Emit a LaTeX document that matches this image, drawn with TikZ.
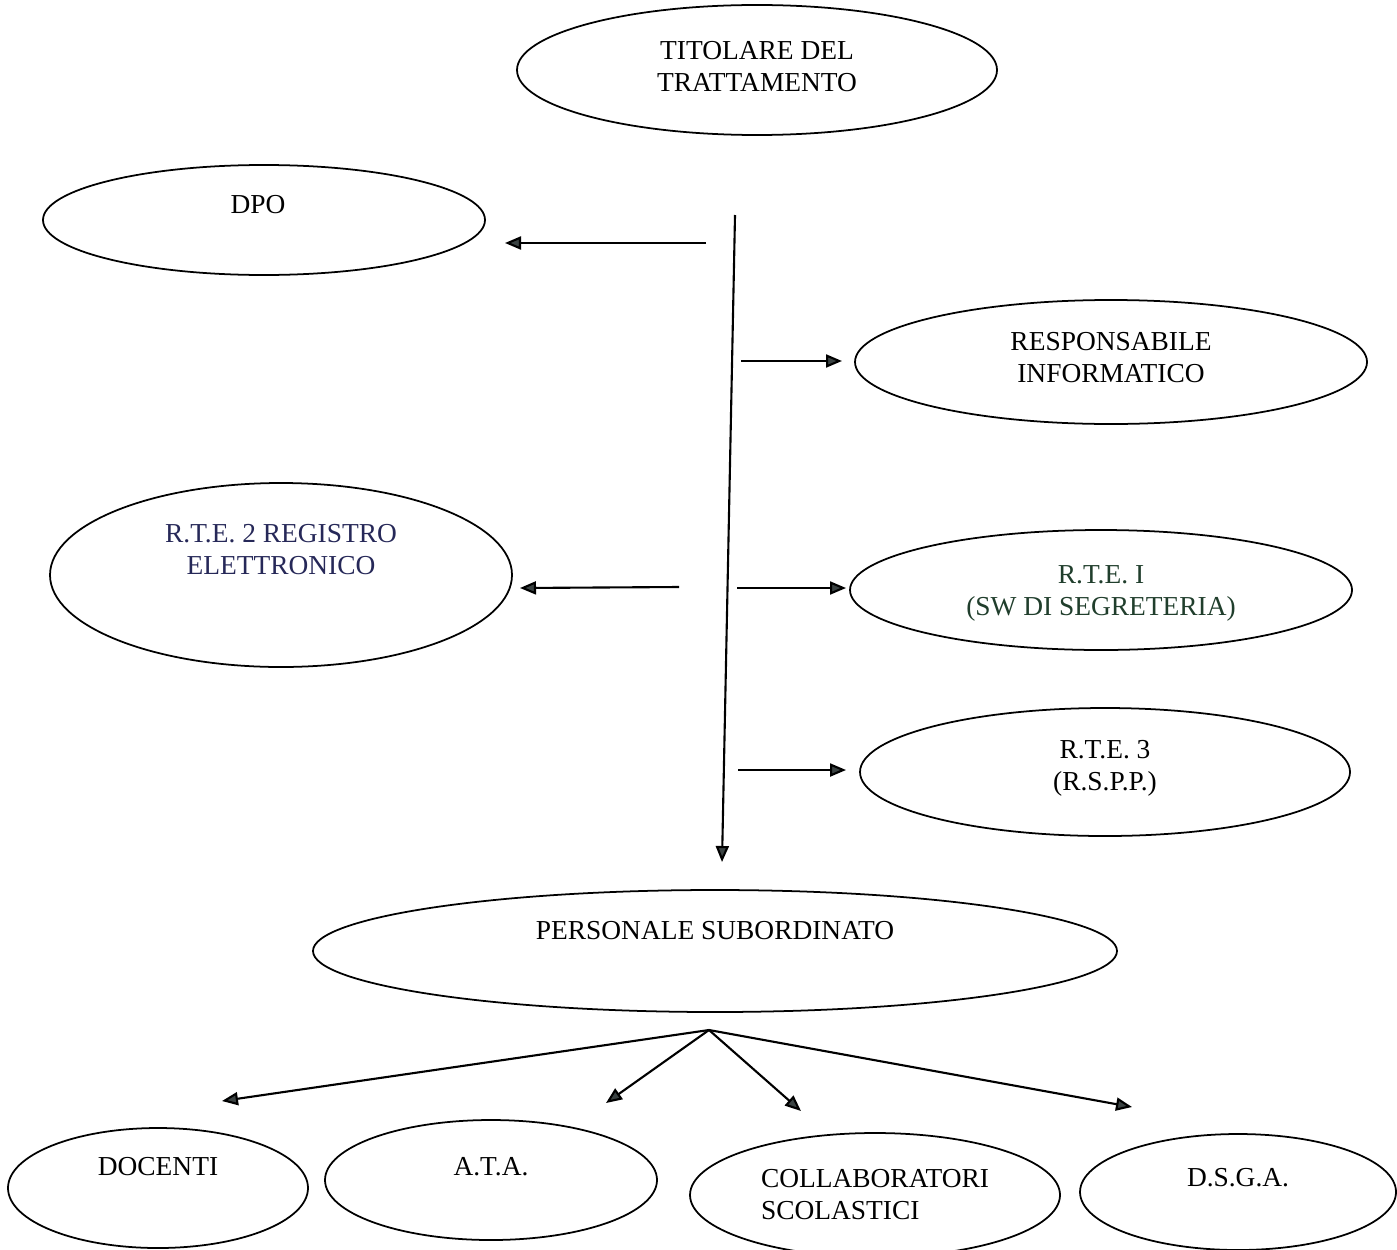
\documentclass[tikz,border=0pt]{standalone}
\usepackage{fontspec}
\setmainfont{Liberation Serif}
\usepackage{tikz}
\usetikzlibrary{shapes.geometric,arrows.meta}
\definecolor{rteblue}{RGB}{38,40,88}
\definecolor{rtegreen}{RGB}{32,62,44}
\definecolor{tipgray}{RGB}{58,66,66}

\begin{document}
\begin{tikzpicture}[x=0.1mm,y=-0.1mm,
	role/.style={draw, ellipse, line width=0.5pt, inner sep=0pt},
	txt/.style={align=center, font=\fontsize{7.8}{9.1}\selectfont},
	arr/.style={line width=0.6pt, -{Triangle[length=1.6mm,width=1.3mm,fill=tipgray]}}]
	\useasboundingbox (0,0) rectangle (1397,1249);
	% Define nodes
	\node[role, minimum width=48mm, minimum height=13mm, label={[txt,yshift=0.3mm]center:{TITOLARE DEL\\TRATTAMENTO}}] (tit) at (757,70) {};
	\node[role, minimum width=44.2mm, minimum height=11mm, label={[txt,xshift=-0.6mm,yshift=1.5mm]center:DPO}] (dpo) at (264,220) {};
	\node[role, minimum width=51.2mm, minimum height=12.4mm, label={[txt,yshift=0.4mm]center:{RESPONSABILE\\INFORMATICO}}] (resp) at (1111,362) {};
	\node[role, minimum width=46.2mm, minimum height=18.4mm, label={[txt,text=rteblue,yshift=2.5mm]center:{R.T.E. 2 REGISTRO\\ELETTRONICO}}] (rte2) at (281,575) {};
	\node[role, minimum width=50.2mm, minimum height=12mm, label={[txt,text=rtegreen,yshift=-0.3mm]center:{R.T.E. I\\(SW DI SEGRETERIA)}}] (rte1) at (1101,590) {};
	\node[role, minimum width=49mm, minimum height=12.8mm, label={[txt,yshift=0.4mm]center:{R.T.E. 3\\(R.S.P.P.)}}] (rte3) at (1105,772) {};
	\node[role, minimum width=80.4mm, minimum height=12.2mm, label={[txt,yshift=2mm]center:PERSONALE SUBORDINATO}] (pers) at (715,951) {};
	\node[role, minimum width=30mm, minimum height=12mm, label={[txt,yshift=2.1mm]center:DOCENTI}] (doc) at (158,1188) {};
	\node[role, minimum width=33.2mm, minimum height=12mm, label={[txt,yshift=1.3mm]center:A.T.A.}] (ata) at (491,1180) {};
	\node[role, minimum width=37mm, minimum height=12.4mm, label={[txt,align=left]center:{COLLABORATORI\\SCOLASTICI}}] (coll) at (875,1195) {};
	\node[role, minimum width=31.6mm, minimum height=11.6mm, label={[txt,yshift=1.4mm]center:D.S.G.A.}] (dsga) at (1238,1192) {};
	% Free ends of the arrows
	\coordinate (vtop) at (735,215);
	\coordinate (vbot) at (722,862);
	\coordinate (dpoA) at (706,243);  \coordinate (dpoB) at (505,243);
	\coordinate (respA) at (741,361); \coordinate (respB) at (842,361);
	\coordinate (rte2A) at (679,587); \coordinate (rte2B) at (520,588);
	\coordinate (rte1A) at (737,588); \coordinate (rte1B) at (846,588);
	\coordinate (rte3A) at (738,770); \coordinate (rte3B) at (846,770);
	\coordinate (hub) at (709,1030);
	\coordinate (docB) at (222,1101);
	\coordinate (ataB) at (606,1103);
	\coordinate (collB) at (801,1111);
	\coordinate (dsgaB) at (1132,1107);
	% Connect the nodes
	\draw[arr] (vtop) -- (vbot);
	\draw[arr] (dpoA) -- (dpoB);
	\draw[arr] (respA) -- (respB);
	\draw[arr] (rte2A) -- (rte2B);
	\draw[arr] (rte1A) -- (rte1B);
	\draw[arr] (rte3A) -- (rte3B);
	\draw[arr] (hub) -- (docB);
	\draw[arr] (hub) -- (ataB);
	\draw[arr] (hub) -- (collB);
	\draw[arr] (hub) -- (dsgaB);
\end{tikzpicture}
\end{document}
